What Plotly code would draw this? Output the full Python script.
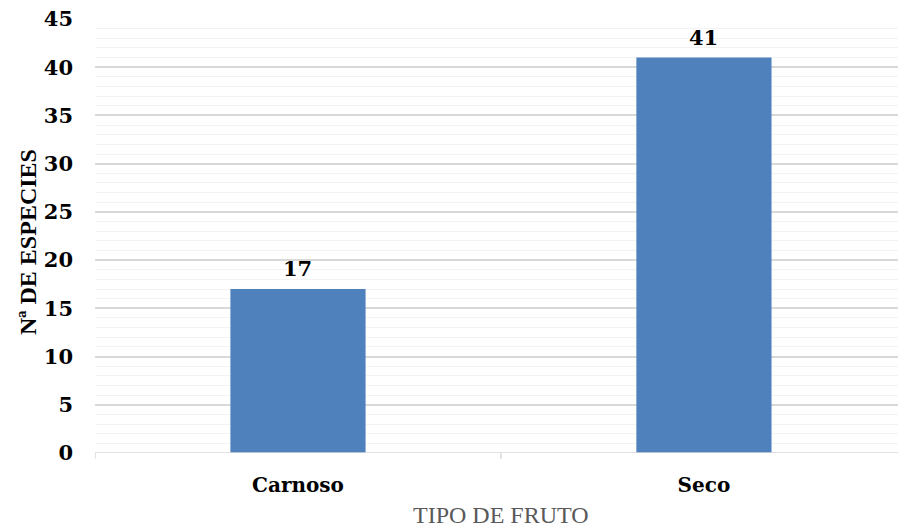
import plotly.graph_objects as go

categories = ["Carnoso", "Seco"]
values = [17, 41]
y_ticks = [0, 5, 10, 15, 20, 25, 30, 35, 40, 45]

fig = go.Figure(go.Bar(
    x=categories, y=values, width=0.333,
    marker=dict(color="#4F81BD", line=dict(width=0)),
    hoverinfo="skip",
))

for c, v in zip(categories, values):
    fig.add_annotation(x=c, y=v, text=f"<b>{v}</b>", showarrow=False,
                       yanchor="bottom", yshift=6,
                       font=dict(family="DejaVu Serif", size=21, color="#000000"))

# axis titles
fig.add_annotation(xref="paper", yref="paper", x=0, y=0.5, xshift=-67, yshift=-6,
                   text="<b>Nª DE ESPECIES</b>", textangle=-90, showarrow=False,
                   xanchor="center", yanchor="middle",
                   font=dict(family="Liberation Serif", size=24, color="#000000"))
fig.add_annotation(xref="x", yref="paper", x=0.5, y=0, yshift=-62,
                   text="TIPO DE FRUTO", showarrow=False,
                   xanchor="center", yanchor="middle",
                   font=dict(family="Liberation Serif", size=24, color="#595959"))

x_right = 1.478

fig.update_layout(
    width=898, height=529,
    margin=dict(l=95, r=0, t=19, b=76, autoexpand=False),
    paper_bgcolor="white", plot_bgcolor="white",
    showlegend=False,
    xaxis=dict(
        range=[-0.5, x_right], showgrid=False, zeroline=False,
        showline=False, automargin=False,
        tickvals=categories, ticktext=[f"<b>{c}</b>" for c in categories],
        tickfont=dict(family="DejaVu Serif", size=20, color="#000000"),
        ticklabelstandoff=18,
    ),
    yaxis=dict(
        range=[0, 45], tickvals=y_ticks, automargin=False,
        ticktext=[f"<b>{t}</b>" for t in y_ticks],
        ticklabeloverflow="allow",
        showgrid=True, gridcolor="#d9d9d9", gridwidth=1.5,
        minor=dict(dtick=1, showgrid=True, gridcolor="#f3f3f3", gridwidth=1),
        zeroline=False, showline=False,
        ticks="", ticklabelstandoff=21,
        tickfont=dict(family="DejaVu Serif", size=21, color="#000000"),
    ),
)

fig.add_shape(type="line", xref="x", yref="y", x0=-0.5, x1=x_right, y0=0, y1=0,
              line=dict(color="#d9d9d9", width=1.5))
for xb in [-0.5, 0.5]:
    fig.add_shape(type="line", xref="x", yref="paper", x0=xb, x1=xb, y0=0, y1=-0.013,
                  line=dict(color="#d9d9d9", width=1.5))

fig.write_html("out.html", config={"displayModeBar": False},
               post_script="document.body.style.margin='0';document.body.style.overflow='hidden';")
